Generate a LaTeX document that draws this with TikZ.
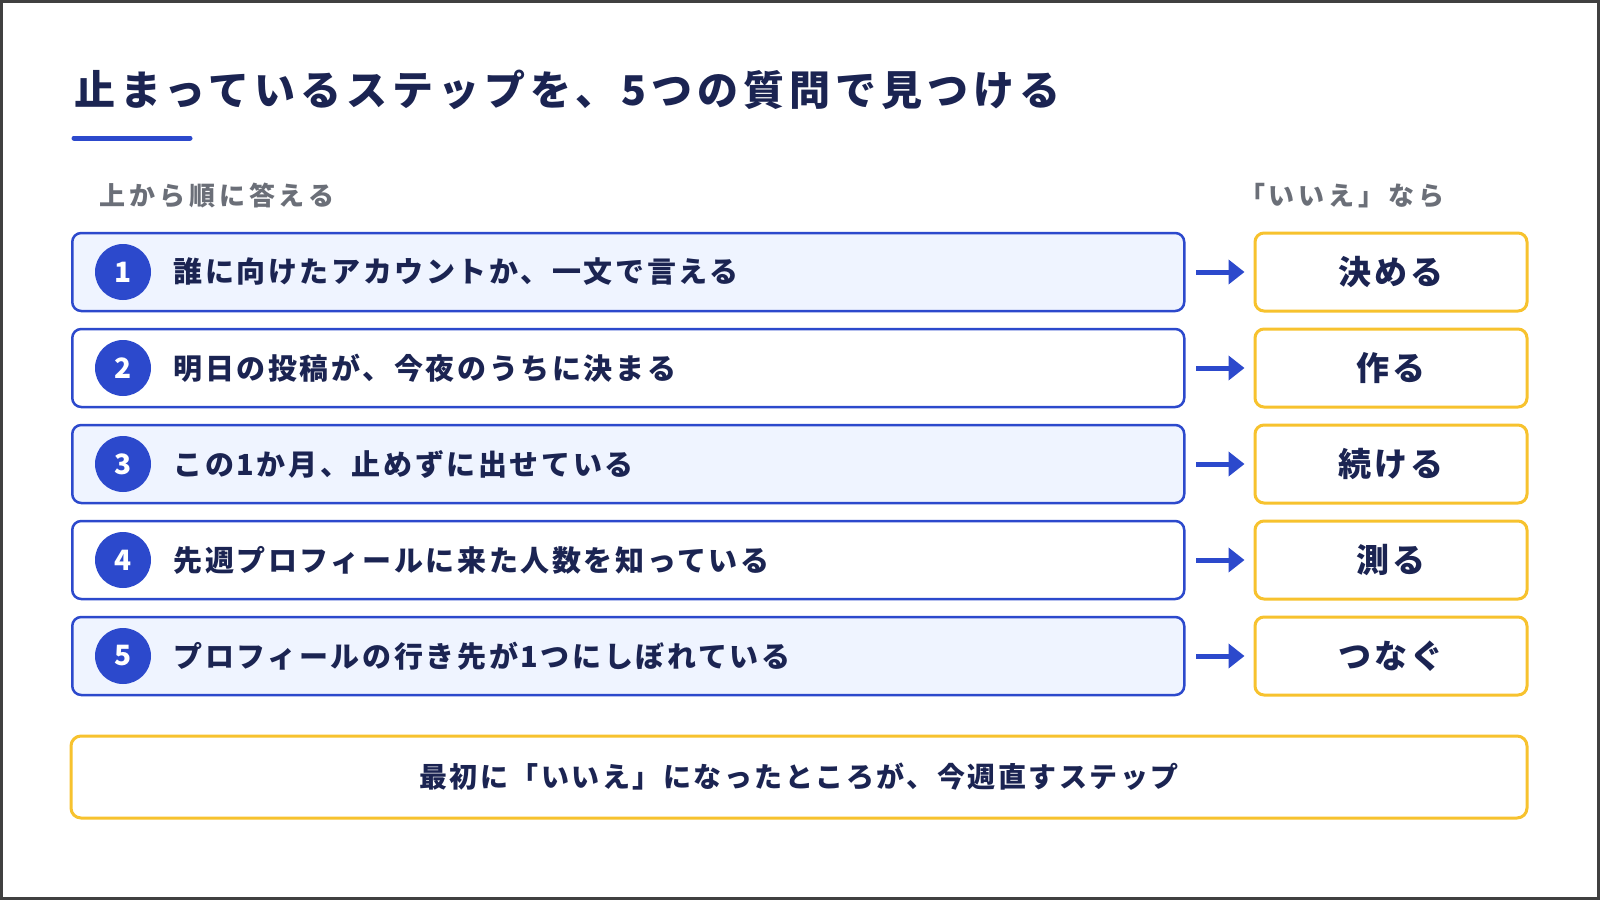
\documentclass[tikz,border=0pt]{standalone}
\usepackage{fontspec}
\setmainfont{Noto Sans CJK JP}[LetterSpace=9]
\usetikzlibrary{arrows.meta}
\definecolor{navy}{HTML}{1B2452}
\definecolor{blu}{HTML}{2C49CC}
\definecolor{lb}{HTML}{EFF4FF}
\definecolor{yel}{HTML}{F7C22E}
\definecolor{gr}{HTML}{6B6F78}
\begin{document}
\begin{tikzpicture}[x=1pt,y=-1pt,
 row/.style={draw=blu,line width=2.5pt,rounded corners=9pt,minimum width=1112pt,minimum height=78pt,anchor=west,inner sep=0pt},
 num/.style={circle,fill=blu,text=white,minimum size=56pt,inner sep=0pt,font=\fontsize{28}{28}\selectfont\bfseries\addfontfeatures{LetterSpace=0}},
 q/.style={anchor=west,text=navy,font=\fontsize{29}{29}\selectfont\bfseries},
 ans/.style={draw=yel,line width=3pt,rounded corners=9pt,minimum width=272pt,minimum height=78pt,text=navy,font=\fontsize{33}{33}\selectfont\bfseries,inner sep=0pt},
 lab/.style={text=gr,font=\fontsize{26}{26}\selectfont\bfseries\addfontfeatures{LetterSpace=15}},
 arr/.style={draw=blu,line width=5pt,-{Triangle[length=16pt,width=24pt]}}]
\draw[fill=white,draw=black!75,line width=3pt] (1.5,1.5) rectangle (1598.5,898.5);
\node[anchor=west,text=navy,font=\fontsize{41}{41}\selectfont\bfseries\addfontfeatures{LetterSpace=12}] (t) at (71,90) {止まっているステップを、5つの質問で見つける};
\draw[blu,line width=5pt,line cap=round] (74,138) -- (190,138);
\node[lab,anchor=west] (l) at (96,196) {上から順に答える};
\node[lab,anchor=east] (r) at (1448,196) {「いいえ」なら};
\foreach \i/\f/\txt/\a in {1/lb/誰に向けたアカウントか、一文で言える/決める,2/white/明日の投稿が、今夜のうちに決まる/作る,3/lb/この1か月、止めずに出せている/続ける,4/white/先週プロフィールに来た人数を知っている/測る,5/lb/プロフィールの行き先が1つにしぼれている/つなぐ}{
 \pgfmathsetmacro\yy{272+96*(\i-1)}
 \node[row,fill=\f] (b\i) at (71,\yy) {};
 \node[num] (n\i) at (123,\yy) {\i};
 \node[q] (q\i) at (170,\yy) {\txt};
 \node[ans] (a\i) at (1391,\yy) {\a};
 \coordinate (s\i) at (1196,\yy);
 \draw[arr] (s\i) -- ([xshift=-9pt]a\i.west);
}
\node[draw=yel,line width=3pt,rounded corners=10pt,minimum width=1456pt,minimum height=82pt,text=navy,font=\fontsize{28}{28}\selectfont\bfseries] (bot) at (799,777) {最初に「いいえ」になったところが、今週直すステップ};
\end{tikzpicture}
\end{document}
